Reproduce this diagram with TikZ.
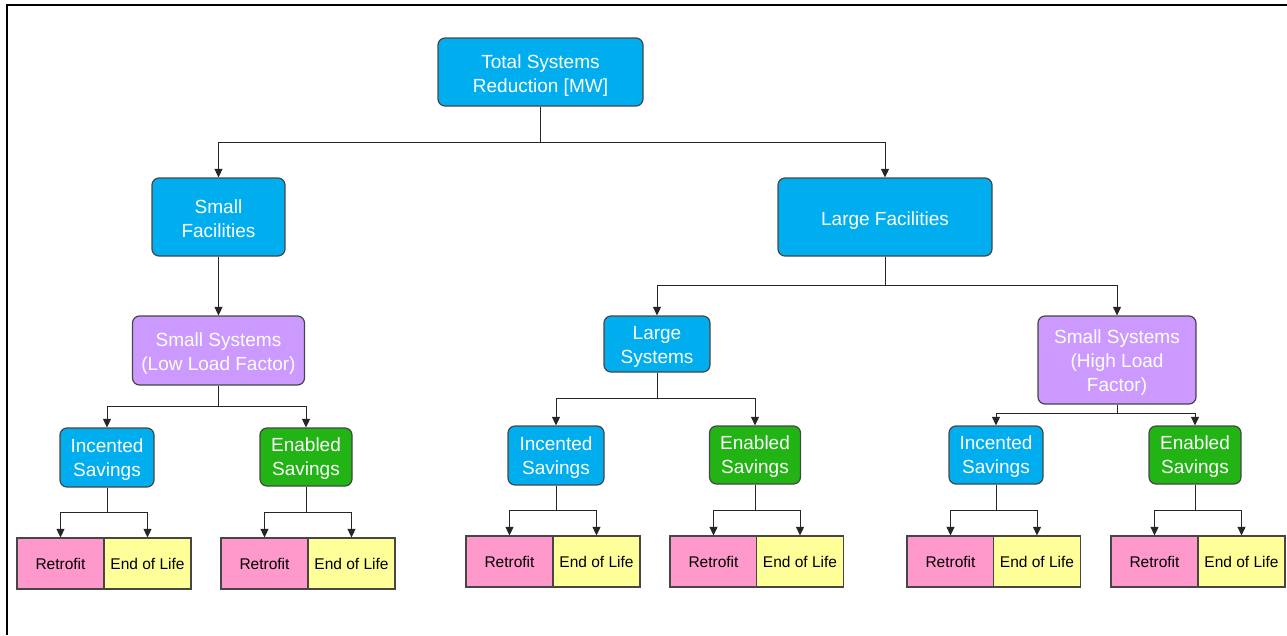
\documentclass[tikz,border=0pt]{standalone}
\usepackage{fontspec}
\setmainfont{Liberation Sans}
\usetikzlibrary{arrows.meta}
\definecolor{cblue}{RGB}{0,174,239}
\definecolor{cpurple}{RGB}{204,153,255}
\definecolor{cgreen}{RGB}{34,180,20}
\definecolor{cpink}{RGB}{255,153,204}
\definecolor{cyellow}{RGB}{255,255,153}
\definecolor{cborder}{RGB}{70,70,70}
\newcommand\boxtext[2][4pt]{\raisebox{-#1}[\height][\depth]{\begin{tabular}{@{}c@{}}#2\end{tabular}}}
\tikzset{
  box/.style={draw=cborder, line width=1.2pt, rounded corners=7pt, text=white,
    inner sep=0pt, font=\fontsize{19}{24}\selectfont},
  bluebox/.style={box, fill=cblue},
  purplebox/.style={box, fill=cpurple},
  greenbox/.style={box, fill=cgreen},
  leaf/.style={draw=cborder, line width=1.2pt, minimum width=87pt, minimum height=51pt, inner sep=0pt,
    text=black, font=\fontsize{15.5}{18}\selectfont},
  retro/.style={leaf, fill=cpink},
  eol/.style={leaf, fill=cyellow},
  arr/.style={draw=black!85, line width=1pt, -{Triangle[length=8.5pt,width=8pt]}},
}
\begin{document}
\begin{tikzpicture}[x=1pt,y=1pt]
\useasboundingbox (0,0) rectangle (1287,-635);
\draw[line width=2pt] (7,-635) -- (7,-5) -- (1287,-5);

% level 0
\node[bluebox, minimum width=205pt, minimum height=68pt] (top) at (540.5,-72) {\boxtext{Total Systems\\Reduction [MW]}};
% level 1
\node[bluebox, minimum width=133pt, minimum height=78pt] (sf) at (218.5,-217) {\boxtext{Small\\Facilities}};
\node[bluebox, minimum width=214pt, minimum height=78pt] (lf) at (885,-217) {\boxtext{Large Facilities}};
% level 2
\node[purplebox, minimum width=172pt, minimum height=69pt] (ssl) at (218.5,-350.5) {\boxtext[3pt]{Small Systems\\(Low Load Factor)}};
\node[bluebox, minimum width=106pt, minimum height=56pt] (ls) at (657,-344) {\boxtext[3pt]{Large\\Systems}};
\node[purplebox, minimum width=158pt, minimum height=88pt] (ssh) at (1117,-360) {\boxtext[3pt]{Small Systems\\(High Load\\Factor)}};
% level 3
\node[bluebox, minimum width=94pt, minimum height=59pt] (inc1) at (107,-457.5) {\boxtext[2pt]{Incented\\Savings}};
\node[greenbox, minimum width=92pt, minimum height=58pt] (ena1) at (306,-457) {\boxtext[2pt]{Enabled\\Savings}};
\node[bluebox, minimum width=96pt, minimum height=59pt] (inc2) at (556,-455.5) {\boxtext[2pt]{Incented\\Savings}};
\node[greenbox, minimum width=91pt, minimum height=58pt] (ena2) at (755,-455) {\boxtext[2pt]{Enabled\\Savings}};
\node[bluebox, minimum width=94pt, minimum height=58pt] (inc3) at (996,-455) {\boxtext[2pt]{Incented\\Savings}};
\node[greenbox, minimum width=92pt, minimum height=58pt] (ena3) at (1195,-455) {\boxtext[2pt]{Enabled\\Savings}};
% leaves
\node[retro] (r1) at (60.5,-563.5) {Retrofit};
\node[eol]   (e1) at (147.5,-563.5) {End of Life};
\node[retro] (r2) at (264.5,-563.5) {Retrofit};
\node[eol]   (e2) at (351.5,-563.5) {End of Life};
\node[retro] (r3) at (509.5,-561.5) {Retrofit};
\node[eol]   (e3) at (596.5,-561.5) {End of Life};
\node[retro] (r4) at (713.5,-561.5) {Retrofit};
\node[eol]   (e4) at (800,-561.5) {End of Life};
\node[retro] (r5) at (950.5,-561.5) {Retrofit};
\node[eol]   (e5) at (1037,-561.5) {End of Life};
\node[retro] (r6) at (1154.5,-561.5) {Retrofit};
\node[eol]   (e6) at (1241.5,-561.5) {End of Life};

% connectors
\draw[arr] (top.south) -- ++(0,-36) -| (sf.north);
\draw[arr] (top.south) -- ++(0,-36) -| (lf.north);
\draw[arr] (sf.south) -- (ssl.north);
\draw[arr] (lf.south) -- ++(0,-29) -| (ls.north);
\draw[arr] (lf.south) -- ++(0,-29) -| (ssh.north);
\draw[arr] (ssl.south) -- ++(0,-21) -| (inc1.north);
\draw[arr] (ssl.south) -- ++(0,-21) -| (ena1.north);
\draw[arr] (ls.south) -- ++(0,-26) -| (inc2.north);
\draw[arr] (ls.south) -- ++(0,-26) -| (ena2.north);
\draw[arr] (ssh.south) -- ++(0,-9) -| (inc3.north);
\draw[arr] (ssh.south) -- ++(0,-9) -| (ena3.north);
\draw[arr] (inc1.south) -- ++(0,-25) -| (r1.north);
\draw[arr] (inc1.south) -- ++(0,-25) -| (e1.north);
\draw[arr] (ena1.south) -- ++(0,-26) -| (r2.north);
\draw[arr] (ena1.south) -- ++(0,-26) -| (e2.north);
\draw[arr] (inc2.south) -- ++(0,-25) -| (r3.north);
\draw[arr] (inc2.south) -- ++(0,-25) -| (e3.north);
\draw[arr] (ena2.south) -- ++(0,-26) -| (r4.north);
\draw[arr] (ena2.south) -- ++(0,-26) -| (e4.north);
\draw[arr] (inc3.south) -- ++(0,-26) -| (r5.north);
\draw[arr] (inc3.south) -- ++(0,-26) -| (e5.north);
\draw[arr] (ena3.south) -- ++(0,-26) -| (r6.north);
\draw[arr] (ena3.south) -- ++(0,-26) -| (e6.north);
\end{tikzpicture}
\end{document}
